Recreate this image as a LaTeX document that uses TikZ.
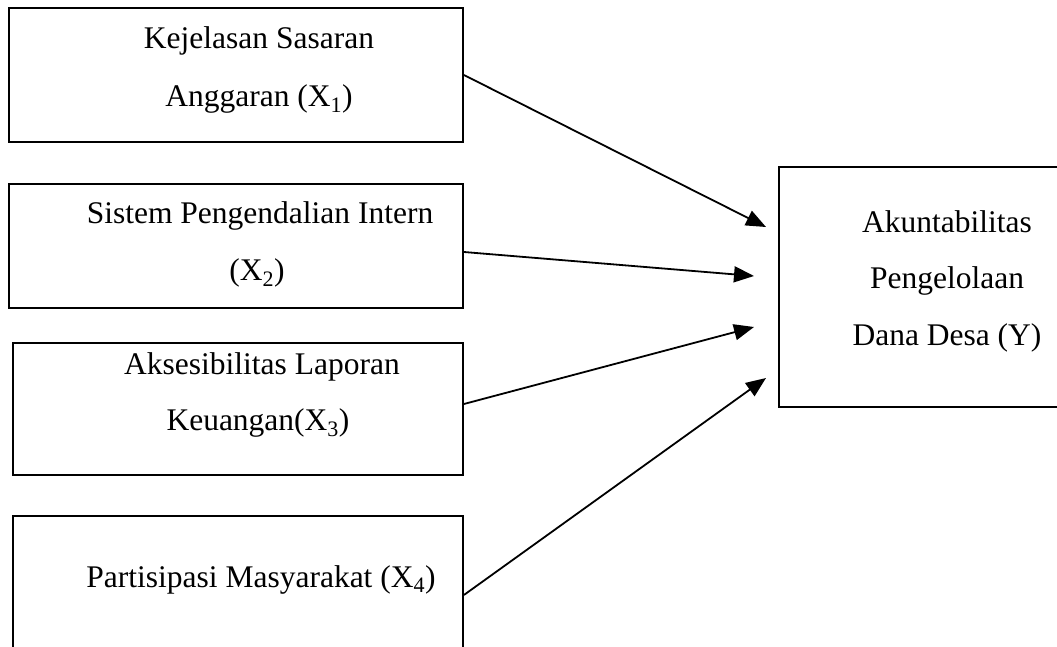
\documentclass[tikz,border=0pt]{standalone}
\usepackage{fontspec}
\setmainfont{Liberation Serif}
\usetikzlibrary{arrows.meta}
\begin{document}
\begin{tikzpicture}[x=1pt,y=-1pt,
  box/.style={draw=black,line width=1.8pt,inner sep=0pt},
  lbl/.style={anchor=base,inner sep=0pt,font=\fontsize{31.5pt}{36pt}\selectfont},
  arr/.style={line width=1.8pt,-{Triangle[length=20pt,width=16pt]}}]
\useasboundingbox (0,0) rectangle (1057,647);
% boxes
\node[box,minimum width=454pt,minimum height=134pt] (b1) at (236,75) {};
\node[box,minimum width=454pt,minimum height=124pt] (b2) at (236,246) {};
\node[box,minimum width=450pt,minimum height=132pt] (b3) at (238,409) {};
\node[box,minimum width=450pt,minimum height=140pt] (b4) at (238,586) {};
\node[box,minimum width=300pt,minimum height=240pt] (y) at (929,287) {};
% labels
\node[lbl] (t1a) at (259,49) {Kejelasan Sasaran};
\node[lbl] (t1b) at (259,107) {Anggaran (X\textsubscript{1})};
\node[lbl] (t2a) at (260,223) {Sistem Pengendalian Intern};
\node[lbl] (t2b) at (257,280) {(X\textsubscript{2})};
\node[lbl] (t3a) at (262,374) {Aksesibilitas Laporan};
\node[lbl] (t3b) at (258,430) {Keuangan(X\textsubscript{3})};
\node[lbl] (t4) at (261,587) {Partisipasi Masyarakat (X\textsubscript{4})};
\node[lbl] (ya) at (947,233) {Akuntabilitas};
\node[lbl] (yb) at (947,288) {Pengelolaan};
\node[lbl] (yc) at (947,345) {Dana Desa (Y)};
% arrow ends
\coordinate (e1) at (766,227);
\coordinate (e2) at (754,276);
\coordinate (e3) at (754,327);
\coordinate (e4) at (766,378);
\draw[arr] (b1.east) -- (e1);
\draw[arr] ([yshift=-6pt]b2.east) -- (e2);
\draw[arr] ([yshift=5pt]b3.east) -- (e3);
\draw[arr] ([yshift=-9pt]b4.east) -- (e4);
\end{tikzpicture}
\end{document}
